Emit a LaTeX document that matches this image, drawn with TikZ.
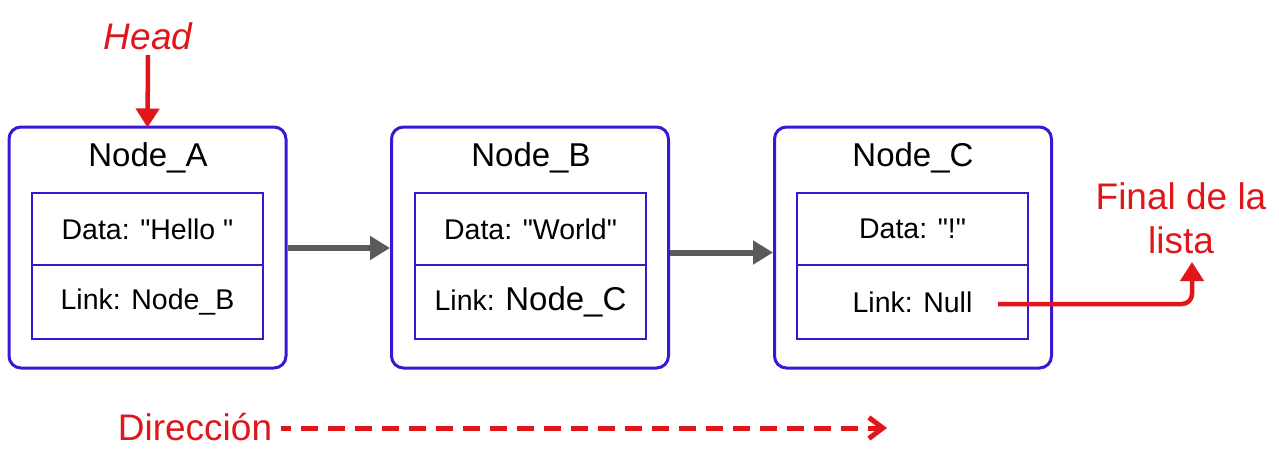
\documentclass[tikz,border=0pt]{standalone}
\usepackage{fontspec}
\setmainfont{Liberation Sans}[Ligatures=TeXOff]
\usetikzlibrary{arrows.meta,calc}
\definecolor{boxblue}{HTML}{3A17D4}
\definecolor{listred}{HTML}{E0161B}
\definecolor{arrgray}{HTML}{5A5A5A}

\begin{document}
\begin{tikzpicture}[x=1pt,y=-1pt,
  outerbox/.style={draw=boxblue,line width=3pt,rounded corners=12pt,
    minimum width=277pt,minimum height=241pt,inner sep=0pt},
  cell/.style={draw=boxblue,line width=2.6pt,minimum width=231pt,
    inner sep=0pt,font=\fontsize{28.5}{33}\selectfont},
  titletext/.style={font=\fontsize{33}{38}\selectfont},
  redtext/.style={text=listred,font=\fontsize{37}{44}\selectfont,align=center},
  nextarrow/.style={draw=arrgray,line width=6pt,
    -{Triangle[length=20pt,width=23pt]}},
  redarrow/.style={draw=listred,line width=4.5pt,
    -{Triangle[length=19pt,width=23pt]}},
  dirarrow/.style={draw=listred,line width=5pt,
    dash pattern=on 16.5pt off 10.5pt,dash phase=6.5pt,
    -{Straight Barb[length=14pt,width=21pt]}}]
\useasboundingbox (0,0) rectangle (1279,460);

% list nodes
\node[outerbox] (A) at (147.5,247.5) {};
\node[outerbox] (B) at (530,247.5) {};
\node[outerbox] (C) at (913,247.5) {};

\node[titletext] (At) at (148,158) {Node\_A};
\node[titletext] (Bt) at (531,158) {Node\_B};
\node[titletext] (Ct) at (913,158) {Node\_C};

% data / link cells
\node[cell,minimum height=72pt] (Ad) at (147.5,229) {Data: "Hello "};
\node[cell,minimum height=74pt] (Al) at (147.5,302) {Link: Node\_B};
\node[cell,minimum height=72pt] (Bd) at (530.5,229) {Data: "World"};
\node[cell,minimum height=74pt] (Bl) at (530.5,302) {Link: {\fontsize{33}{38}\selectfont Node\_C}};
\node[cell,minimum height=72pt] (Cd) at (912.5,229) {Data: "!"};
\node[cell,minimum height=74pt] (Cl) at (912.5,302) {Link: Null};

% links between nodes
\draw[nextarrow] ([yshift=-0.5pt]A.east) -- ([yshift=-0.5pt]B.west);
\draw[nextarrow] ([yshift=-5pt]B.east) -- ([yshift=-5pt]C.west);

% head pointer
\node[redtext,font=\fontsize{37}{44}\selectfont\itshape] (head) at (148,36) {Head};
\draw[redarrow] ([yshift=-2pt]head.south) -- ([yshift=-2pt]A.north);

% end of list
\node[redtext] (final) at (1181,218) {Final de la\\lista};
\coordinate (nullend) at (998,304);
\coordinate (finaltip) at (1192,262);
\draw[redarrow,rounded corners=10pt] (nullend) -| (finaltip);

% direction of traversal
\node[redtext] (dir) at (195,427) {Dirección};
\coordinate (dirend) at (887,428);
\draw[dirarrow] ([xshift=5pt]dir.east |- dirend) -- (dirend);
\end{tikzpicture}
\end{document}
